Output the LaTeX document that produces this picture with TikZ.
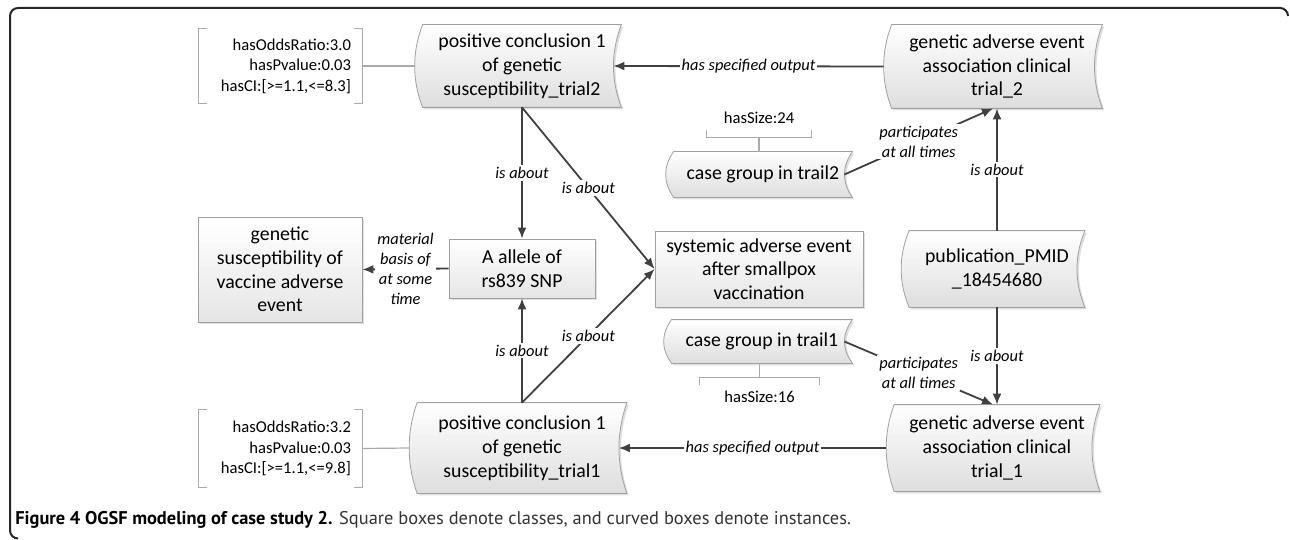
\documentclass[tikz,border=0pt]{standalone}
\usepackage{fontspec}
\setmainfont{Carlito}
\newfontfamily\capfont{PT Sans}
\usepackage{tikz}
\usetikzlibrary{arrows.meta,backgrounds,shadows,calc}
\definecolor{mydark}{RGB}{64,64,64}
\definecolor{myborder}{RGB}{160,160,160}
\definecolor{mybrace}{RGB}{170,170,170}

\begin{document}
\begin{tikzpicture}[x=0.5pt, y=0.5pt,
    every node/.style = {align=center, font=\fontsize{9.9}{11.9}\selectfont},
    class/.style = {rectangle, draw=myborder, top color=white, bottom color=black!10,
      drop shadow={opacity=0.25, shadow xshift=1pt, shadow yshift=-1pt}},
    instshape/.style = {draw=myborder, top color=white, bottom color=black!13,
      drop shadow={opacity=0.25, shadow xshift=1pt, shadow yshift=-1pt}},
    stats/.style = {align=right, text width=70.5pt, inner xsep=5.5pt, inner ysep=0pt,
      font=\fontsize{8.3}{10.2}\selectfont},
    sizebox/.style = {minimum height=19pt, inner sep=0pt, font=\fontsize{8.3}{10}\selectfont},
    rel/.style = {draw=mydark, line width=0.9pt, -{Latex[length=5.5pt,width=4.5pt]}},
    lbl/.style = {fill=white, inner sep=1pt, font=\fontsize{8.2}{10}\selectfont\itshape},
    brace/.style = {draw=mybrace, line width=0.6pt},
    frame/.style = {draw=black!85, line width=1pt, rounded corners=4pt}]
  \useasboundingbox (0,0) rectangle (1290,-540);
  \draw[frame] (18,-538.5) -- (10,-538.5) -- (10,-8) -- (1288,-8) -- (1288,-16);

  % instances
  \node[minimum width=99pt, minimum height=41pt] (pc2) at (522,-66)
    {positive conclusion 1\\of genetic\\susceptibility\_trial2};
  \node[minimum width=105pt, minimum height=41.5pt] (gae2) at (997,-66.5)
    {genetic adverse event\\association clinical\\trial\_2};
  \node[minimum width=89pt, minimum height=22.5pt] (cg2) at (763,-174.5) {case group in trail2};
  \node[minimum width=87.5pt, minimum height=38pt] (pub) at (997,-269)
    {publication\_PMID\\\_18454680};
  \node[minimum width=90pt, minimum height=21.5pt] (cg1) at (762,-341.5) {case group in trail1};
  \node[minimum width=104.5pt, minimum height=45pt] (pc1) at (522,-448)
    {positive conclusion 1\\of genetic\\susceptibility\_trial1};
  \node[minimum width=102.5pt, minimum height=43pt] (gae1) at (997,-448)
    {genetic adverse event\\association clinical\\trial\_1};

  % classes
  \node[class, minimum width=82pt, minimum height=52.5pt] (gs) at (280,-269.5)
    {genetic\\susceptibility of\\vaccine adverse\\event};
  \node[class, minimum width=73pt, minimum height=29.5pt] (allele) at (522,-268.5)
    {A allele of\\rs839 SNP};
  \node[class, minimum width=104pt, minimum height=38pt] (sae) at (759,-269)
    {systemic adverse event\\after smallpox\\vaccination};

  % data values
  \node[stats, minimum height=37pt] (stats2) at (280.5,-66)
    {hasOddsRatio:3.0\\hasPvalue:0.03\\hasCI:[>=1.1,<=8.3]};
  \node[stats, minimum height=38.5pt] (stats1) at (280.5,-448.5)
    {hasOddsRatio:3.2\\hasPvalue:0.03\\hasCI:[>=1.1,<=9.8]};
  \node[sizebox, minimum width=52pt] (size2) at (759,-118) {hasSize:24};
  \node[sizebox, minimum width=59.5pt] (size1) at (759.5,-397) {hasSize:16};

  \begin{scope}[on background layer]
    \foreach \n in {pc2,gae2,cg2,pub,cg1,pc1,gae1}
      \path[instshape] (\n.north west) -- (\n.north east)
        .. controls ($(\n.north east)!1/3!(\n.south east)+(-5.3pt,0)$)
          and ($(\n.north east)!2/3!(\n.south east)+(-5.3pt,0)$) .. (\n.south east)
        -- (\n.south west)
        .. controls ($(\n.south west)!1/3!(\n.north west)+(-5.3pt,0)$)
          and ($(\n.south west)!2/3!(\n.north west)+(-5.3pt,0)$) .. (\n.north west) -- cycle;
  \end{scope}

  % brackets
  \foreach \s in {stats2,stats1} {
    \draw[brace] ([xshift=4pt]\s.north west) -- (\s.north west)
      -- (\s.south west) -- ([xshift=4pt]\s.south west);
    \draw[brace] ([xshift=-4pt]\s.north east) -- (\s.north east)
      -- (\s.south east) -- ([xshift=-4pt]\s.south east);
  }
  \draw[brace] (stats2.east) -- ([xshift=-4pt]pc2.west);
  \draw[brace] (stats1.east) -- ([xshift=-4pt]pc1.west);
  \draw[brace] ([yshift=3.5pt]size2.south west) -- (size2.south west)
    -- (size2.south east) -- ([yshift=3.5pt]size2.south east);
  \draw[brace] (size2.south) -- (size2.south |- cg2.north);
  \draw[brace] ([yshift=-3.5pt]size1.north west) -- (size1.north west)
    -- (size1.north east) -- ([yshift=-3.5pt]size1.north east);
  \draw[brace] (size1.north) -- (size1.north |- cg1.south);

  % relations
  \draw[rel] ([xshift=-4pt]gae2.west) -- node[lbl]{has specified output} ([xshift=-4pt]pc2.east);
  \draw[rel] (pc2.south) -- node[lbl]{is about} (allele.north);
  \draw[rel] (pc2.south) -- node[lbl]{is about} (sae.west);
  \draw[rel] (allele.west) -- node[lbl]{material\\basis of\\at some\\time} (gs.east);
  \draw[rel] ([xshift=-4pt]cg2.east) -- node[lbl]{participates\\at all times} ([xshift=-2pt]gae2.south);
  \draw[rel] (pub.north) -- node[lbl]{is about} (gae2.south);
  \draw[rel] (pub.south) -- node[lbl]{is about} (gae1.north);
  \draw[rel] ([xshift=-4pt]cg1.east) -- node[lbl]{participates\\at all times} ([xshift=-2pt]gae1.north);
  \draw[rel] ([xshift=-4pt]gae1.west) -- node[lbl]{has specified output} ([xshift=-4pt]pc1.east);
  \draw[rel] (pc1.north) -- node[lbl]{is about} (allele.south);
  \draw[rel] (pc1.north) -- node[lbl]{is about} (sae.west);

  \node[anchor=west, inner sep=0pt, text=black!80,
    font=\capfont\fontsize{9.2}{11}\selectfont] (caption) at (15,-520)
    {\textcolor{black}{\bfseries Figure 4 OGSF modeling of case study 2.} Square boxes denote classes, and curved boxes denote instances.};
\end{tikzpicture}
\end{document}
